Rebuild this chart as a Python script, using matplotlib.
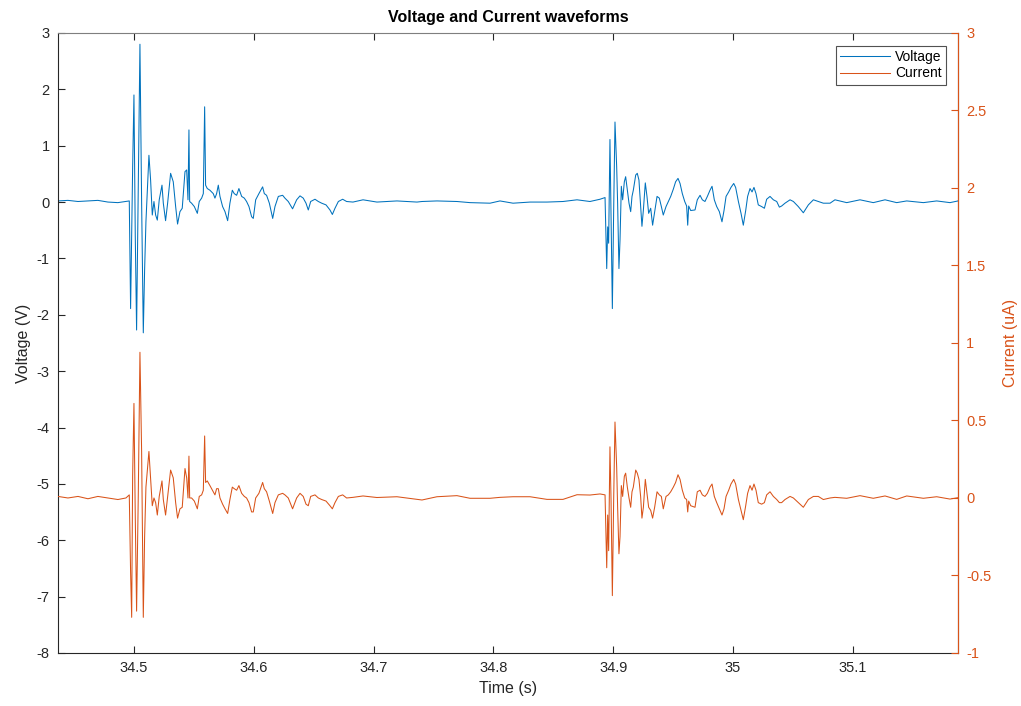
import matplotlib
matplotlib.use("Agg")
import matplotlib.pyplot as plt
import numpy as np

plt.rcParams["font.family"] = ["Liberation Sans", "DejaVu Sans"]
plt.rcParams["axes.unicode_minus"] = False

# ── Waveform samples (time in s, V in volts, I in uA) ──
t_pre = [34.4366, 34.4449, 34.4533, 34.4616, 34.4699, 34.4783, 34.4866, 34.4933]
v_pre = [0.02, 0.03, 0.01, 0.02, 0.03, 0.00, -0.01, 0.01]
i_pre = [0.01, 0.00, 0.01, -0.005, 0.01, 0.00, -0.01, 0.00]

t_b1 = [34.4961, 34.4972, 34.4981, 34.4989, 34.5000, 34.5011, 34.5022, 34.5036,
        34.5050, 34.5064, 34.5078, 34.5089, 34.5100, 34.5125, 34.5139, 34.5153,
        34.5167, 34.5181, 34.5195, 34.5211, 34.5234, 34.5245, 34.5264, 34.5281,
        34.5306, 34.5328, 34.5348, 34.5364, 34.5384, 34.5403, 34.5426, 34.5440,
        34.5451, 34.5459, 34.5465, 34.5481, 34.5504, 34.5529, 34.5545, 34.5565,
        34.5579, 34.5590, 34.5598, 34.5612, 34.5634, 34.5662, 34.5676, 34.5690,
        34.5704, 34.5718, 34.5740, 34.5760, 34.5782, 34.5801, 34.5821, 34.5837,
        34.5857, 34.5876, 34.5899, 34.5921, 34.5940, 34.5960, 34.5982, 34.5996,
        34.6016, 34.6043, 34.6074, 34.6088, 34.6107, 34.6130, 34.6158, 34.6177,
        34.6205, 34.6241, 34.6260, 34.6288, 34.6324, 34.6358, 34.6386, 34.6413,
        34.6436, 34.6455, 34.6475, 34.6511, 34.6539, 34.6567, 34.6603, 34.6636,
        34.6656, 34.6678, 34.6706, 34.6742, 34.6775]
v_b1 = [0.02, -1.89, -0.50, 0.60, 1.90, -0.60, -2.27, 0.20,
        2.80, 0.00, -2.32, -1.20, -0.35, 0.83, 0.39, -0.23,
        0.01, -0.23, -0.32, 0.04, 0.30, -0.02, -0.33, -0.02,
        0.51, 0.36, -0.08, -0.39, -0.17, -0.11, 0.54, 0.57,
        0.04, 1.28, 0.01, -0.02, -0.08, -0.20, 0.01, 0.07,
        0.15, 1.69, 0.30, 0.24, 0.21, 0.15, 0.07, 0.15,
        0.30, 0.10, -0.08, -0.17, -0.33, -0.02, 0.21, 0.15,
        0.12, 0.24, 0.10, 0.07, 0.01, -0.08, -0.26, -0.29,
        0.04, 0.15, 0.27, 0.15, 0.12, -0.02, -0.29, -0.08,
        0.10, 0.12, 0.07, 0.01, -0.12, 0.04, 0.11, 0.07,
        -0.02, -0.14, 0.01, 0.05, 0.01, -0.02, -0.05, -0.14,
        -0.22, -0.11, 0.01, 0.05, 0.01]
i_b1 = [0.02, -0.48, -0.77, 0.14, 0.61, -0.12, -0.73, 0.01,
        0.94, 0.30, -0.77, -0.25, 0.07, 0.30, 0.12, -0.05,
        0.00, -0.03, -0.11, 0.01, 0.11, -0.01, -0.11, 0.01,
        0.18, 0.13, -0.03, -0.13, -0.07, -0.06, 0.19, 0.13,
        0.00, 0.27, 0.00, 0.00, -0.02, -0.07, 0.01, 0.02,
        0.05, 0.40, 0.10, 0.11, 0.08, 0.04, 0.02, 0.06,
        0.06, 0.00, -0.04, -0.07, -0.10, -0.01, 0.07, 0.06,
        0.05, 0.08, 0.03, 0.01, 0.00, -0.03, -0.09, -0.09,
        0.00, 0.03, 0.10, 0.06, 0.04, -0.02, -0.10, -0.03,
        0.02, 0.03, 0.02, 0.00, -0.07, 0.00, 0.03, 0.01,
        -0.04, -0.05, 0.01, 0.02, 0.00, -0.01, -0.02, -0.05,
        -0.07, -0.03, 0.01, 0.02, 0.00]

t_mid = [34.6828, 34.6912, 34.7028, 34.7195, 34.7362, 34.7404, 34.7529, 34.7696,
         34.7805, 34.7972, 34.8055, 34.8164, 34.8306, 34.8447, 34.8581, 34.8698,
         34.8806, 34.8890]
v_mid = [0.00, 0.04, 0.00, 0.02, 0.00, 0.01, 0.02, 0.01,
         -0.01, -0.02, 0.02, -0.02, 0.00, 0.00, 0.01, 0.04,
         0.01, 0.05]
i_mid = [0.004, 0.013, 0.003, 0.008, -0.009, -0.013, 0.008, 0.015,
         -0.002, -0.002, 0.004, 0.008, 0.008, -0.009, -0.009, 0.021,
         0.019, 0.026]

t_b2 = [34.8932, 34.8946, 34.8954, 34.8962, 34.8973, 34.8982, 34.8993, 34.9004,
        34.9015, 34.9029, 34.9037, 34.9048, 34.9057, 34.9068, 34.9079, 34.9093,
        34.9104, 34.9118, 34.9132, 34.9146, 34.9157, 34.9168, 34.9188, 34.9201,
        34.9215, 34.9229, 34.9240, 34.9252, 34.9268, 34.9282, 34.9296, 34.9313,
        34.9329, 34.9346, 34.9366, 34.9385, 34.9402, 34.9418, 34.9441, 34.9460,
        34.9480, 34.9502, 34.9521, 34.9541, 34.9558, 34.9577, 34.9597, 34.9613,
        34.9622, 34.9630, 34.9647, 34.9683, 34.9702, 34.9725, 34.9744, 34.9766,
        34.9786, 34.9808, 34.9825, 34.9844, 34.9864, 34.9886, 34.9908, 34.9925,
        34.9942, 34.9964, 34.9983, 35.0006, 35.0022, 35.0045, 35.0067, 35.0086,
        35.0106, 35.0122, 35.0142, 35.0159, 35.0175, 35.0192, 35.0211, 35.0239,
        35.0262, 35.0281, 35.0309, 35.0337, 35.0365, 35.0387, 35.0406, 35.0434,
        35.0476, 35.0504, 35.0545, 35.0587, 35.0629, 35.0671, 35.0712, 35.0754,
        35.0810]
v_b2 = [0.08, -1.18, -0.44, -0.73, 1.11, -0.20, -1.89, -0.14,
        1.42, 0.63, -0.02, -1.18, -0.67, 0.28, 0.04, 0.36,
        0.45, 0.21, -0.02, -0.17, 0.10, 0.21, 0.48, 0.51,
        0.39, -0.08, -0.43, -0.14, 0.34, 0.10, -0.20, -0.11,
        -0.41, -0.17, 0.10, 0.07, -0.08, -0.23, -0.08, 0.01,
        0.10, 0.23, 0.36, 0.42, 0.33, 0.15, 0.01, -0.07,
        -0.41, -0.07, -0.15, -0.14, 0.04, 0.12, 0.04, 0.01,
        0.10, 0.21, 0.28, 0.04, -0.08, -0.17, -0.35, -0.15,
        0.10, 0.18, 0.26, 0.33, 0.26, 0.01, -0.20, -0.41,
        -0.15, 0.10, 0.24, 0.18, 0.26, 0.15, -0.05, -0.08,
        -0.11, 0.05, 0.10, 0.04, 0.01, -0.09, -0.07, -0.02,
        0.04, 0.01, -0.08, -0.19, -0.05, 0.04, 0.01, -0.02,
        -0.02]
i_b2 = [0.02, -0.45, -0.11, -0.34, 0.33, -0.01, -0.63, -0.01,
        0.49, 0.20, -0.06, -0.36, -0.25, 0.08, 0.01, 0.14,
        0.16, 0.07, 0.00, -0.06, 0.04, 0.07, 0.18, 0.16,
        0.12, 0.01, -0.13, -0.06, 0.12, 0.03, -0.06, -0.08,
        -0.13, -0.06, 0.04, 0.02, 0.01, -0.07, 0.01, 0.02,
        0.04, 0.07, 0.10, 0.15, 0.12, 0.05, 0.00, -0.01,
        -0.09, -0.02, -0.05, -0.06, 0.04, 0.05, 0.02, 0.01,
        0.03, 0.07, 0.09, 0.01, -0.03, -0.07, -0.11, -0.07,
        0.01, 0.05, 0.09, 0.12, 0.09, -0.01, -0.08, -0.14,
        -0.05, 0.03, 0.08, 0.05, 0.09, 0.05, -0.03, -0.04,
        -0.03, 0.02, 0.04, 0.01, -0.01, -0.03, -0.03, -0.01,
        0.01, 0.00, -0.03, -0.06, -0.01, 0.01, 0.01, -0.01,
        0.00]

t_post = [35.0851, 35.0949, 35.1060, 35.1171, 35.1269, 35.1366, 35.1450,
          35.1589, 35.1700, 35.1811, 35.1878]
v_post = [0.04, -0.01, 0.04, -0.01, 0.04, -0.01, 0.02, -0.01, 0.02, -0.01, 0.02]
i_post = [0.004, -0.002, 0.015, -0.002, 0.013, -0.009, 0.013, -0.002, 0.008,
          -0.007, 0.002]

time = np.array(t_pre + t_b1 + t_mid + t_b2 + t_post)
voltage = np.array(v_pre + v_b1 + v_mid + v_b2 + v_post)
current = np.array(i_pre + i_b1 + i_mid + i_b2 + i_post)

BLUE = "#0072BD"
ORANGE = "#D95319"
AXC = "#262626"

fig = plt.figure(figsize=(10.21, 7.06), dpi=100)
ax = fig.add_axes([0.0568, 0.0751, 0.8815, 0.8782])
ax2 = ax.twinx()

l1, = ax.plot(time, voltage, color=BLUE, lw=0.75, label="Voltage")
l2, = ax2.plot(time, current, color=ORANGE, lw=0.75, label="Current")

ax.set_xlim(34.4366, 35.1878)
ax.set_ylim(-8, 3)
ax2.set_ylim(-1, 3)

ax.set_xticks([34.5, 34.6, 34.7, 34.8, 34.9, 35.0, 35.1])
ax.set_xticklabels(["34.5", "34.6", "34.7", "34.8", "34.9", "35", "35.1"])
ax.set_yticks(range(-8, 4))
ax2.set_yticks(np.arange(-1, 3.01, 0.5))
ax2.set_yticklabels(["-1", "-0.5", "0", "0.5", "1", "1.5", "2", "2.5", "3"])

ax.tick_params(axis="x", direction="in", top=True, length=5, width=0.8,
               colors=AXC, labelsize=10.5, pad=6)
ax.tick_params(axis="y", direction="in", length=5, width=0.8, colors=AXC,
               labelsize=10.5, pad=6)
ax2.tick_params(axis="y", direction="in", length=5, width=0.8, colors=ORANGE,
                labelsize=10.5, pad=6)

for s in ["left", "bottom", "top"]:
    ax.spines[s].set_color(AXC)
    ax.spines[s].set_linewidth(0.8)
ax.spines["top"].set_color("#7f7f7f")
ax2.spines["right"].set_color(ORANGE)
ax2.spines["right"].set_linewidth(0.8)
for s in ["left", "bottom", "top"]:
    ax2.spines[s].set_visible(False)

ax.set_xlabel("Time (s)", fontsize=11.5, color=AXC)
ax.set_ylabel("Voltage (V)", fontsize=11.5, color=AXC, labelpad=4)
ax2.set_ylabel("Current (uA)", fontsize=11.5, color=ORANGE, labelpad=8)
ax.set_title("Voltage and Current waveforms", fontsize=11.5, fontweight="bold",
             color="black", pad=8)

leg = ax2.legend(handles=[l1, l2], loc="upper right", fontsize=10,
                 frameon=True, fancybox=False, edgecolor=AXC, handlelength=3.6,
                 borderpad=0.3, labelspacing=0.15, handletextpad=0.4,
                 bbox_to_anchor=(0.9945, 0.99))
leg.get_frame().set_linewidth(0.8)

fig.savefig("out.png", dpi=100)
